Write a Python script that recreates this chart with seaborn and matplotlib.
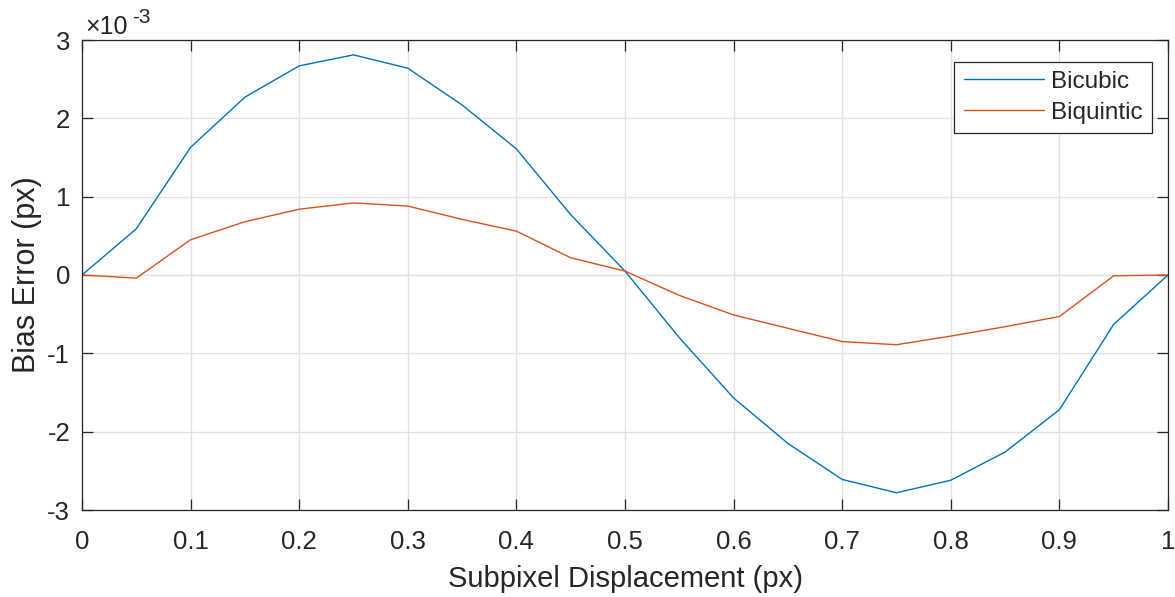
import numpy as np
import pandas as pd
import matplotlib
matplotlib.use("Agg")
import matplotlib.pyplot as plt
from matplotlib.ticker import FuncFormatter, MultipleLocator
import seaborn as sns

# Subpixel displacement samples (px)
displacement = [0.00, 0.05, 0.10, 0.15, 0.20, 0.25, 0.30, 0.35, 0.40, 0.45, 0.50,
                0.55, 0.60, 0.65, 0.70, 0.75, 0.80, 0.85, 0.90, 0.95, 1.00]

# Bias error in units of 1e-3 px
bicubic_e3 = [0.00, 0.59, 1.63, 2.27, 2.67, 2.81, 2.64, 2.17, 1.61, 0.77, 0.05,
              -0.80, -1.57, -2.15, -2.61, -2.78, -2.62, -2.26, -1.72, -0.63, 0.00]
biquintic_e3 = [0.00, -0.04, 0.45, 0.68, 0.84, 0.92, 0.88, 0.71, 0.56, 0.22, 0.05,
                -0.26, -0.51, -0.68, -0.85, -0.89, -0.78, -0.66, -0.53, -0.01, 0.00]

series_names = ["Bicubic", "Biquintic"]
colors = {"Bicubic": "#0072BD", "Biquintic": "#D95319"}

df = pd.concat([
    pd.DataFrame({"x": displacement, "y": np.array(bicubic_e3) * 1e-3, "method": "Bicubic"}),
    pd.DataFrame({"x": displacement, "y": np.array(biquintic_e3) * 1e-3, "method": "Biquintic"}),
])

sns.set_theme(style="white")
plt.rcParams["font.family"] = ["Liberation Sans", "DejaVu Sans"]
plt.rcParams["axes.unicode_minus"] = False

W, H = 1175, 597
fig = plt.figure(figsize=(W / 100, H / 100), dpi=100)
ax = fig.add_axes([82 / W, 1 - 510 / H, (1168 - 82) / W, (510 - 40) / H])

sns.lineplot(data=df, x="x", y="y", hue="method", hue_order=series_names,
             palette=colors, linewidth=1.0, ax=ax, legend=True)

ax.set_xlim(0, 1)
ax.set_ylim(-3e-3, 3e-3)
ax.xaxis.set_major_locator(MultipleLocator(0.1))
ax.yaxis.set_major_locator(MultipleLocator(1e-3))


def fmt_x(v, pos):
    if abs(v) < 1e-9:
        return "0"
    if abs(v - 1) < 1e-9:
        return "1"
    return f"{v:.1f}"


def fmt_y(v, pos):
    s = f"{v * 1e3:.0f}"
    return "0" if s == "-0" else s


ax.xaxis.set_major_formatter(FuncFormatter(fmt_x))
ax.yaxis.set_major_formatter(FuncFormatter(fmt_y))

ax.grid(True, color="#E1E1E1", linewidth=1.0)
ax.set_axisbelow(True)
for s in ax.spines.values():
    s.set_color("#262626")
    s.set_linewidth(0.9)
ax.tick_params(axis="both", which="major", direction="in", length=8, width=0.9,
               color="#262626", labelcolor="#262626", labelsize=18.5,
               top=True, right=True, bottom=True, left=True)
ax.tick_params(axis="x", pad=14.5)
ax.tick_params(axis="y", pad=8.5)

ax.set_xlabel("Subpixel Displacement (px)", fontsize=21, color="#262626", labelpad=8)
ax.set_ylabel("Bias Error (px)", fontsize=22, color="#262626", labelpad=4)

# exponent marker above the y axis
fig.text(85 / W, 1 - 34 / H, "\u00d710", fontsize=18, color="#262626", va="baseline", ha="left")
fig.text(132 / W, 1 - 23 / H, "-3", fontsize=15, color="#262626", va="baseline", ha="left")

handles, labels = ax.get_legend_handles_labels()
leg = ax.legend(handles, labels, loc="upper right",
                bbox_to_anchor=(1 - 16 / 1086, 1 - 21.5 / 470), borderaxespad=0,
                fontsize=17.5, frameon=True, fancybox=False, framealpha=1,
                edgecolor="#262626", handlelength=3.3, handletextpad=0.3,
                labelspacing=0.36, borderpad=0.38)
leg.get_frame().set_linewidth(0.9)
for line in leg.get_lines():
    line.set_linewidth(1.0)

fig.savefig("out.png", dpi=100)
